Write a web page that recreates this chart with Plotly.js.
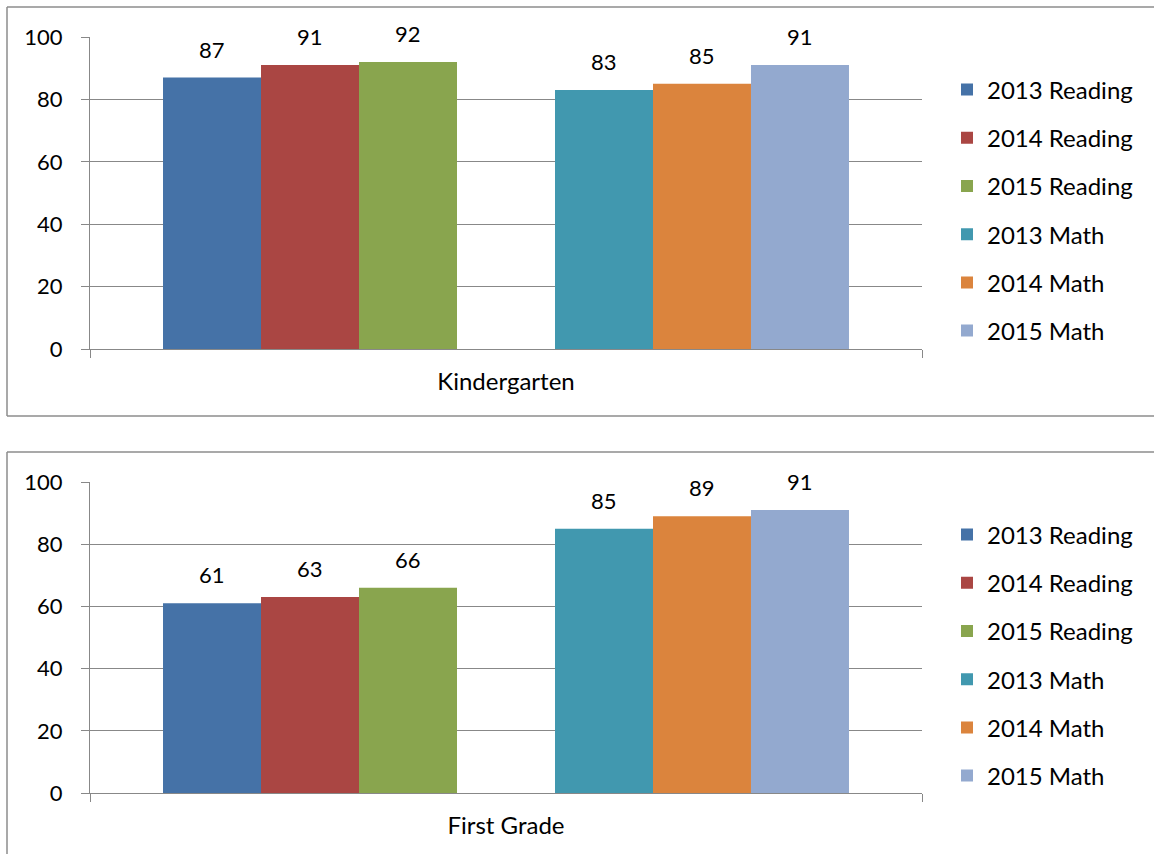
<!DOCTYPE html>
<html>
<head>
<meta charset="utf-8">
<script src="https://cdn.plot.ly/plotly-3.0.1.min.js"></script>
<style>
  html, body { margin: 0; padding: 0; background: #fff; }
  #chart { width: 1154px; height: 854px; }
</style>
</head>
<body>
<div id="chart"></div>
<script>
// Series names and colours
const seriesNames = ['2013 Reading', '2014 Reading', '2015 Reading', '2013 Math', '2014 Math', '2015 Math'];
const seriesColors = ['#4572A7', '#AA4643', '#89A54E', '#4198AF', '#DB843D', '#93A9CF'];

// Panel categories
const kgCategory = ['Kindergarten'];
const firstCategory = ['First Grade'];

// Percent values per series, in the order of seriesNames
const kgValues = [87, 91, 92, 83, 85, 91];
const firstValues = [61, 63, 66, 85, 89, 91];

const yTicks = [0, 20, 40, 60, 80, 100];

// Page geometry (pixels)
const W = 1154, H = 854;
const plotLeft = 90, plotRight = 922;
const topPlot = [37, 349];      // top, bottom of upper plot area
const bottomPlot = [482, 793];  // top, bottom of lower plot area
const barGap = 0.1755;
// Slot order inside each group: three reading bars, one empty slot, three math bars
const slotOrder = [0, 1, 2, null, 3, 4, 5];

const FONT = 'Lato, "Open Sans", sans-serif';
const GRID = '#888888';
const FRAME = '#8c8c8c';

const px2x = p => p / W;
const px2y = p => 1 - p / H;

function panelTraces(category, values, axisSuffix, legendName) {
  const traces = [];
  slotOrder.forEach((s, i) => {
    if (s === null) {
      traces.push({
        type: 'bar', x: category, y: [0],
        xaxis: 'x' + axisSuffix, yaxis: 'y' + axisSuffix,
        marker: { color: 'rgba(0,0,0,0)', line: { width: 0 } },
        showlegend: false, hoverinfo: 'skip', legend: legendName
      });
    } else {
      traces.push({
        type: 'bar', x: category, y: [values[s]], name: seriesNames[s],
        xaxis: 'x' + axisSuffix, yaxis: 'y' + axisSuffix,
        marker: { color: seriesColors[s], line: { width: 0 } },
        legend: legendName, legendgroup: legendName + s
      });
    }
  });
  return traces;
}

// Value labels above each bar, positioned through the axis scale
function panelLabels(category, values, axisSuffix) {
  const slotW = (plotRight - plotLeft) * (1 - barGap) / slotOrder.length;
  const mid = (slotOrder.length - 1) / 2;
  const out = [];
  slotOrder.forEach((s, i) => {
    if (s === null) return;
    out.push({
      xref: 'x' + axisSuffix, yref: 'y' + axisSuffix,
      x: category[0], y: values[s], text: String(values[s]),
      showarrow: false, xanchor: 'center', yanchor: 'bottom',
      xshift: (i - mid) * slotW, yshift: 13,
      font: { family: FONT, size: 22, color: '#000' }
    });
  });
  return out;
}

const data = [].concat(
  panelTraces(kgCategory, kgValues, '', 'legend'),
  panelTraces(firstCategory, firstValues, '2', 'legend2')
);

function xAxis(anchor) {
  return {
    domain: [px2x(plotLeft), px2x(plotRight)],
    anchor: anchor,
    type: 'category',
    range: [-0.5, 0.5],
    showline: true, linecolor: GRID, linewidth: 1,
    ticks: 'outside', ticklen: 8, tickcolor: GRID, tickwidth: 1,
    tickson: 'boundaries',
    showgrid: false, zeroline: false,
    tickfont: { family: FONT, size: 24, color: '#000' },
    ticklabelstandoff: 11,
    fixedrange: true
  };
}

function yAxis(plotPx, anchor) {
  return {
    domain: [px2y(plotPx[1]), px2y(plotPx[0])],
    anchor: anchor,
    range: [0, 100],
    tickvals: yTicks,
    ticktext: yTicks.map(String),
    showline: true, linecolor: GRID, linewidth: 1,
    ticks: 'outside', ticklen: 8, tickcolor: GRID, tickwidth: 1,
    showgrid: true, gridcolor: GRID, gridwidth: 1,
    zeroline: false,
    tickfont: { family: FONT, size: 22, color: '#000' },
    ticklabelstandoff: 14,
    fixedrange: true
  };
}

function legendAt(centerPx) {
  return {
    x: px2x(947), xanchor: 'left',
    y: px2y(centerPx), yanchor: 'middle',
    bgcolor: 'rgba(0,0,0,0)', borderwidth: 0,
    font: { family: FONT, size: 24, color: '#000' },
    tracegroupgap: 14,
    itemclick: false, itemdoubleclick: false
  };
}

// Open-ended frame (left, top, bottom edges) around a chart panel
function frame(topPx, bottomPx) {
  const line = { color: FRAME, width: 1.5 };
  const base = { type: 'line', xref: 'paper', yref: 'paper', line: line, layer: 'below' };
  return [
    Object.assign({}, base, { x0: px2x(7), x1: px2x(7), y0: px2y(topPx), y1: px2y(bottomPx) }),
    Object.assign({}, base, { x0: px2x(7), x1: 1, y0: px2y(topPx), y1: px2y(topPx) }),
    Object.assign({}, base, { x0: px2x(7), x1: 1, y0: px2y(bottomPx), y1: px2y(bottomPx) })
  ];
}

const layout = {
  width: W, height: H,
  margin: { l: 0, r: 0, t: 0, b: 0, pad: 0 },
  paper_bgcolor: '#fff', plot_bgcolor: '#fff',
  font: { family: FONT, color: '#000' },
  barmode: 'group',
  bargap: barGap,
  bargroupgap: 0,
  xaxis: xAxis('y'),
  yaxis: yAxis(topPlot, 'x'),
  xaxis2: xAxis('y2'),
  yaxis2: yAxis(bottomPlot, 'x2'),
  legend: legendAt(210.5),
  legend2: legendAt(655.5),
  annotations: [].concat(
    panelLabels(kgCategory, kgValues, ''),
    panelLabels(firstCategory, firstValues, '2')
  ),
  shapes: [].concat(frame(7, 416), frame(452, H + 5)),
  hovermode: false
};

Plotly.newPlot('chart', data, layout, { displayModeBar: false, staticPlot: true });
</script>
</body>
</html>
